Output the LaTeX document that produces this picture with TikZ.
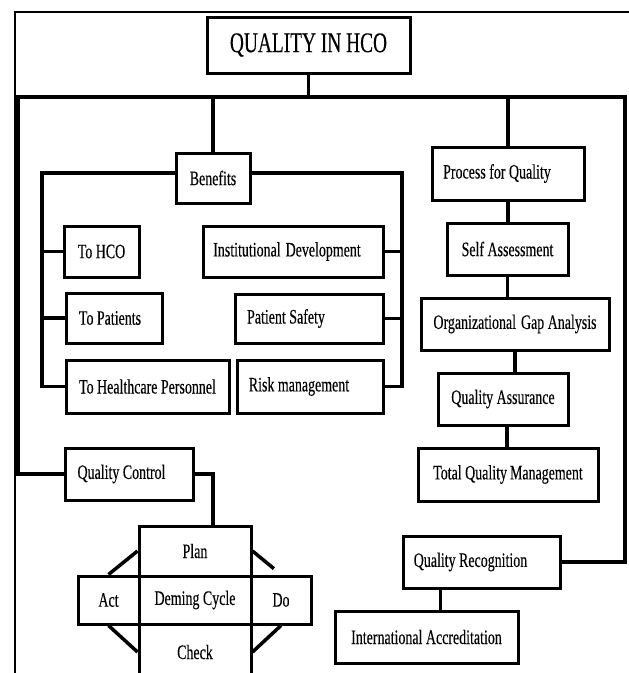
\documentclass[tikz,border=0pt]{standalone}
\usepackage{fontspec}
\setmainfont[FakeStretch=0.68,FakeBold=0.2]{Liberation Serif}
\usetikzlibrary{calc}
\begin{document}
\begin{tikzpicture}[x=1pt,y=-1pt,
  box/.style={draw, line width=3pt, inner sep=0pt, fill=white, font=\fontsize{20.5}{24}\selectfont},
  conn/.style={line width=3.5pt},
  bar/.style={line width=4.5pt},
  framestyle/.style={line width=1.2pt}]
\useasboundingbox (0,0) rectangle (629,673);
% frame
\draw[framestyle] (15,673) -- (15,12) -- (629,12);
% coordinates
\coordinate (barL) at (18,97);
\coordinate (barR) at (625,97);
\coordinate (bl) at (42,173);
\coordinate (br) at (402,173);
% nodes
\node[box, minimum width=203pt, minimum height=56pt, font=\fontsize{28.5}{32}\selectfont] (title) at (308.5,45) {QUALITY IN HCO};
\node[box, minimum width=74pt, minimum height=50pt] (benefits) at (213,178) {Benefits};
\node[box, minimum width=75pt, minimum height=51pt] (tohco) at (101.5,251.5) {To HCO};
\node[box, minimum width=96pt, minimum height=50pt] (topat) at (114,318) {To Patients\hspace*{8pt}};
\node[box, minimum width=163pt, minimum height=53pt] (hp) at (147.5,386.5) {To Healthcare Personnel};
\node[box, minimum width=180pt, minimum height=51pt] (inst) at (293,251.5) {Institutional\hspace{5pt}Development\hspace*{12pt}};
\node[box, minimum width=148pt, minimum height=49pt] (safety) at (309,318.5) {Patient Safety\hspace*{46pt}};
\node[box, minimum width=146pt, minimum height=53pt] (risk) at (310,386.5) {Risk management\hspace*{22pt}};
\node[box, minimum width=152pt, minimum height=53pt] (process) at (508,173.5) {Process for Quality\hspace*{22pt}};
\node[box, minimum width=121pt, minimum height=52pt] (selfa) at (507.5,249) {Self Assessment};
\node[box, minimum width=188pt, minimum height=52pt] (gap) at (515,324) {Organizational\hspace{5pt}Gap Analysis};
\node[box, minimum width=130pt, minimum height=52pt] (qa) at (503,399) {Quality Assurance};
\node[box, minimum width=180pt, minimum height=53pt] (tqm) at (508,474.5) {Total Quality\hspace{3pt}Management};
\node[box, minimum width=128pt, minimum height=52pt] (qc) at (129,474) {Quality Control\hspace*{15pt}};
\node[box, minimum width=112pt, minimum height=50pt] (plan) at (195,551) {Plan};
\node[box, minimum width=61pt, minimum height=48pt] (act) at (108.5,600) {Act};
\node[box, minimum width=112pt, minimum height=48pt] (deming) at (195,600) {Deming Cycle};
\node[box, minimum width=60pt, minimum height=48pt] (do) at (281,600) {Do};
\node[box, minimum width=112pt, minimum height=56pt] (check) at (195,652) {Check};
\node[box, minimum width=157pt, minimum height=52pt] (qr) at (481.5,562) {Quality Recognition\hspace*{22pt}};
\node[box, minimum width=183pt, minimum height=52pt] (ia) at (426.5,637) {International Accreditation};
% trunk and main bar
\draw[conn] (title.south) -- (title.south |- barL);
\draw[bar] (qc.west) -| (barL) -- (barR) |- (qr.east);
\draw[conn] (benefits.north) -- (benefits.north |- barL);
\draw[conn] (process.north) -- (process.north |- barR);
% benefits bracket
\draw[conn] (benefits.west |- bl) -- (bl) |- (hp.west);
\draw[conn] (benefits.east |- br) -- (br) |- (risk.east);
\draw[conn] (tohco.west) -- (tohco.west -| bl);
\draw[conn] (topat.west) -- (topat.west -| bl);
\draw[conn] (inst.east) -- (inst.east -| br);
\draw[conn] (safety.east) -- (safety.east -| br);
% process chain
\draw[conn] (process.south) -- (process.south |- selfa.north);
\draw[conn] (selfa.south) -- (selfa.south |- gap.north);
\draw[conn] (gap.south) -- (gap.south |- qa.north);
\draw[conn] ([xshift=4pt]qa.south) -- ([xshift=4pt]qa.south |- tqm.north);
% quality control to deming
\draw[conn] (qc.east) -| ([xshift=18pt]plan.north);
% deming diagonals
\draw[conn] (plan.west) -- (act.north);
\draw[conn] (plan.east) -- ($(plan.east)!0.75!(do.north)$);
\draw[conn] (act.south) -- (check.west);
\draw[conn] (check.east) -- (do.south);
% recognition
\draw[conn] ([xshift=14pt]ia.north) -- ([xshift=14pt]ia.north |- qr.south);
\end{tikzpicture}
\end{document}
